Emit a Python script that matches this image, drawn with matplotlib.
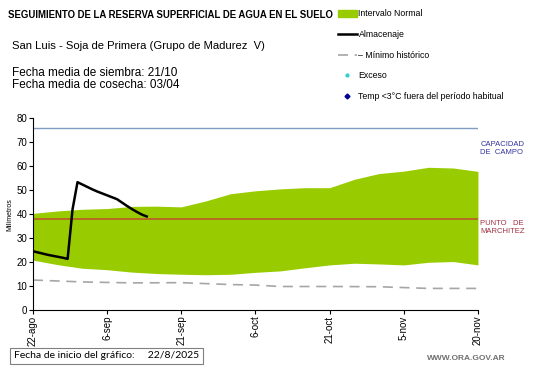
import matplotlib
matplotlib.use('Agg')
import matplotlib.pyplot as plt
from matplotlib.lines import Line2D
from matplotlib.patches import Patch

plt.rcParams['font.family'] = ['Liberation Sans', 'DejaVu Sans']

# days since 22-ago
tick_days = [0, 15, 30, 45, 60, 75, 90]
tick_labels = ['22-ago', '6-sep', '21-sep', '6-oct', '21-oct', '5-nov', '20-nov']

band_days = [0, 5, 10, 15, 20, 25, 30, 35, 40, 45, 50, 55, 60, 65, 70, 75, 80, 85, 90]
band_upper = [40.3, 41.3, 42.0, 42.3, 43.2, 43.3, 43.0, 45.5, 48.5, 49.7, 50.5, 51.0,
              51.0, 54.5, 56.9, 57.9, 59.5, 59.2, 57.8]
band_lower = [20.8, 18.9, 17.4, 16.8, 15.8, 15.2, 14.9, 14.7, 14.9, 15.7, 16.3, 17.6,
              18.8, 19.5, 19.2, 18.8, 19.9, 20.2, 18.8]

alm_days = list(range(24))
almacenaje = [24.5, 24.0, 23.5, 23.0, 22.6, 22.2, 21.8, 21.3, 42.0, 53.3, 52.3, 51.3,
              50.3, 49.4, 48.6, 47.8, 47.0, 46.2, 44.8, 43.4, 42.1, 40.9, 39.8, 39.0]

min_days = [0, 10, 20, 30, 40, 45, 50, 60, 70, 80, 90]
minimo = [12.5, 11.7, 11.3, 11.4, 10.6, 10.4, 9.8, 9.8, 9.7, 9.0, 9.0]

capacidad = 76
marchitez = 38

fig = plt.figure(figsize=(5.41, 3.68), dpi=100)
ax = fig.add_axes([0.061, 0.1576, 0.8225, 0.5214])

ax.fill_between(band_days, band_lower, band_upper, color='#99cc00', lw=0)
ax.axhline(capacidad, color='#7f9cc0', lw=1)
ax.axhline(marchitez, color='#c0502a', lw=1.1)
ax.plot(min_days, minimo, color='#a6a6a6', lw=1.2, ls=(0, (6, 4)))
ax.plot(alm_days, almacenaje, color='black', lw=1.8)

ax.set_xlim(0, 90)
ax.set_ylim(0, 80)
ax.set_xticks(tick_days)
ax.set_xticklabels(tick_labels, rotation=90, fontsize=7)
ax.set_yticks(range(0, 81, 10))
ax.tick_params(axis='y', labelsize=7, length=3, pad=1)
ax.tick_params(axis='x', length=3, pad=1)
ax.spines['top'].set_visible(False)
ax.spines['right'].set_visible(False)
ax.set_ylabel('Milímetros', fontsize=5, labelpad=2)

ax.text(1.005, 0.88, 'CAPACIDAD\nDE  CAMPO', transform=ax.transAxes, fontsize=5.5,
        color='#3333a0', va='top', linespacing=1.2)
ax.text(1.005, 0.468, 'PUNTO   DE\nMARCHITEZ', transform=ax.transAxes, fontsize=5.5,
        color='#a03040', va='top', linespacing=1.2)

fig.text(8 / 541, 1 - 15 / 368, 'SEGUIMIENTO DE LA RESERVA SUPERFICIAL DE AGUA EN EL SUELO',
         fontsize=6.9, fontweight='bold', va='center')
fig.text(12 / 541, 1 - 46 / 368, 'San Luis - Soja de Primera (Grupo de Madurez  V)',
         fontsize=8.1, va='center')
fig.text(12 / 541, 1 - 73 / 368, 'Fecha media de siembra: 21/10', fontsize=8.5, va='center')
fig.text(12 / 541, 1 - 85 / 368, 'Fecha media de cosecha: 03/04', fontsize=8.5, va='center')

handles = [
    Patch(color='#99cc00'),
    Line2D([], [], color='black', lw=1.8),
    Line2D([], [], color='#a6a6a6', lw=1.2, ls=(0, (6, 4))),
    Line2D([], [], color='#33cccc', marker='o', ls='', ms=2),
    Line2D([], [], color='#000099', marker='D', ls='', ms=2.5),
]
labels = ['Intervalo Normal', 'Almacenaje', '– Mínimo histórico', 'Exceso',
          'Temp <3°C fuera del período habitual']
fig.legend(handles, labels, loc='upper left', bbox_to_anchor=(334 / 541, 1 - 6 / 368),
           frameon=False, fontsize=6.3, handlelength=2.2, handletextpad=0.2,
           labelspacing=1.33, borderaxespad=0)

fig.text(14 / 541, 1 - 356 / 368, 'Fecha de inicio del gráfico:     22/8/2025',
         fontsize=7.5, family='Lato', va='center',
         bbox=dict(boxstyle='square,pad=0.35', fc='white', ec='#808080', lw=0.8))
fig.text(427 / 541, 1 - 359 / 368, 'WWW.ORA.GOV.AR', fontsize=6, color='#707070',
         fontweight='bold', va='center')

fig.savefig('out.png', dpi=100)
